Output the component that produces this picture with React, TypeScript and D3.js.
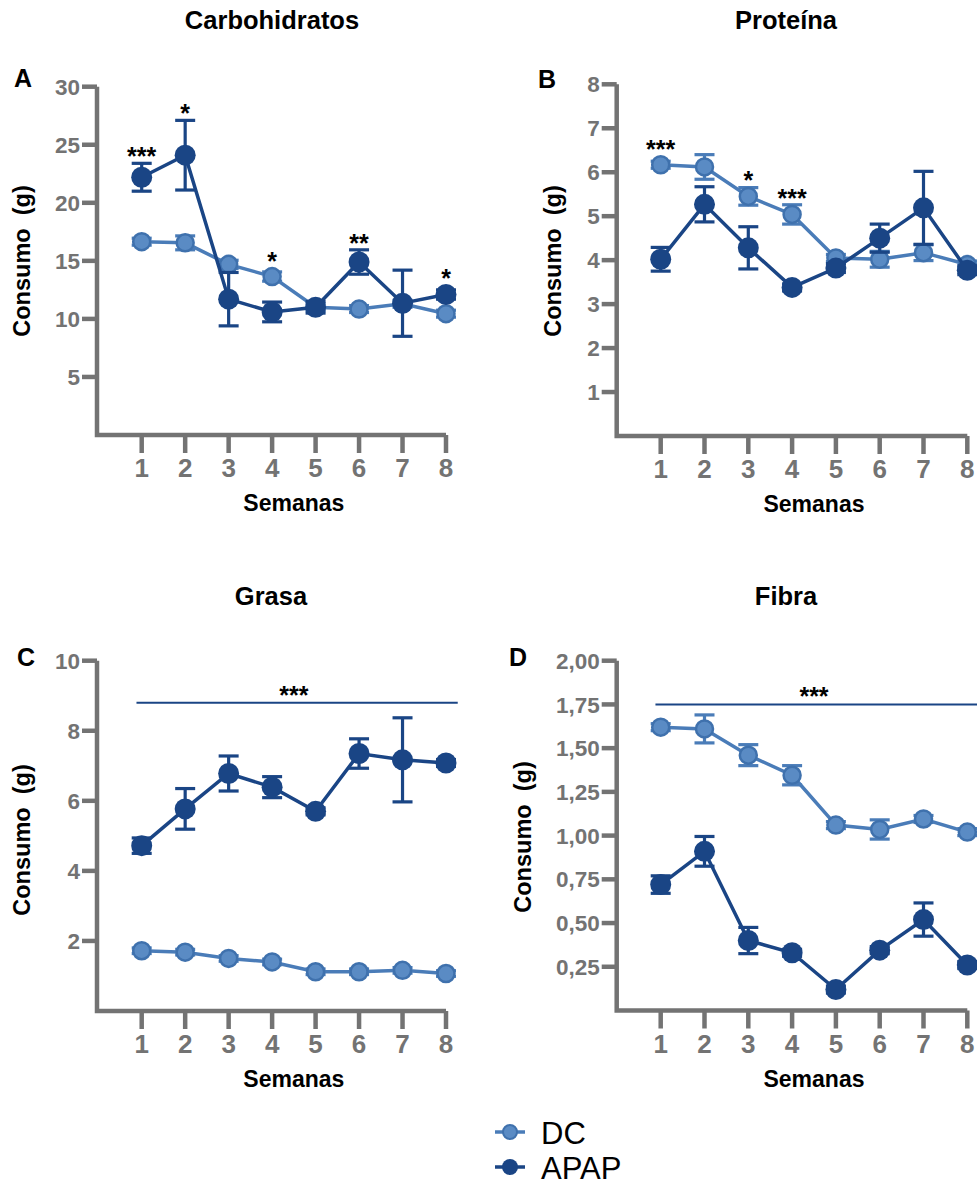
import React from "react";
import * as d3 from "d3";

// weeks on the x axis
const weeks = [1, 2, 3, 4, 5, 6, 7, 8];

// A - Carbohidratos
const carbDC = [16.65, 16.55, 14.7, 13.65, 11.0, 10.85, 11.3, 10.45];
const carbDCsem = [0.3, 0.6, 0.35, 0.4, 0.3, 0.3, 0.3, 0.3];
const carbAPAP = [22.2, 24.1, 11.7, 10.6, 11.0, 14.9, 11.35, 12.1];
const carbAPAPsem = [1.2, 3.0, 2.3, 0.85, 0.5, 1.05, 2.85, 0.4];
const carbStars = [
  { week: 1, label: "***" },
  { week: 2, label: "*" },
  { week: 4, label: "*" },
  { week: 6, label: "**" },
  { week: 8, label: "*" },
];

// B - Proteína
const protDC = [6.17, 6.12, 5.45, 5.04, 4.05, 4.02, 4.17, 3.9];
const protDCsem = [0.08, 0.28, 0.2, 0.22, 0.08, 0.18, 0.18, 0.08];
const protAPAP = [4.02, 5.27, 4.28, 3.38, 3.82, 4.5, 5.19, 3.77];
const protAPAPsem = [0.27, 0.4, 0.48, 0.08, 0.1, 0.32, 0.83, 0.1];
const protStars = [
  { week: 1, label: "***" },
  { week: 3, label: "*" },
  { week: 4, label: "***" },
];

// C - Grasa
const fatDC = [1.72, 1.68, 1.5, 1.4, 1.12, 1.12, 1.16, 1.07];
const fatDCsem = [0.08, 0.08, 0.08, 0.08, 0.08, 0.08, 0.08, 0.08];
const fatAPAP = [4.72, 5.77, 6.78, 6.39, 5.7, 7.35, 7.17, 7.08];
const fatAPAPsem = [0.22, 0.58, 0.5, 0.3, 0.1, 0.42, 1.2, 0.1];
const fatBar = { value: 8.8, label: "***" };

// D - Fibra
const fibDC = [1.62, 1.61, 1.46, 1.345, 1.06, 1.035, 1.095, 1.02];
const fibDCsem = [0.02, 0.08, 0.06, 0.055, 0.02, 0.055, 0.02, 0.02];
const fibAPAP = [0.72, 0.91, 0.4, 0.33, 0.12, 0.345, 0.52, 0.26];
const fibAPAPsem = [0.05, 0.085, 0.075, 0.02, 0.02, 0.02, 0.095, 0.02];
const fibBar = { value: 1.75, label: "***" };

const carbTicks = [5, 10, 15, 20, 25, 30];
const protTicks = [1, 2, 3, 4, 5, 6, 7, 8];
const fatTicks = [2, 4, 6, 8, 10];
const fibTicks = [0.25, 0.5, 0.75, 1, 1.25, 1.5, 1.75, 2];

const legendNames = ["DC", "APAP"];

const FONT = "'Liberation Sans', Arial, Helvetica, sans-serif";
const AXIS = "#737373";
const DARK = "#1a4585";
const LIGHT_FILL = "#5a8bc4";
const LIGHT_STROKE = "#3f71ad";
const LIGHT_LINE = "#4a7cb8";

function Series({ x, y, mean, sem, dark }) {
  const line = d3
    .line()
    .x((d, i) => x(weeks[i]))
    .y((d) => y(d));
  const color = dark ? DARK : LIGHT_LINE;
  const r = dark ? 10.5 : 8.5;
  return (
    <g>
      {mean.map((m, i) => {
        const cx = x(weeks[i]);
        const top = y(m + sem[i]);
        const bot = y(m - sem[i]);
        return (
          <g key={"e" + i} stroke={color} strokeWidth={3.2}>
            <line x1={cx} x2={cx} y1={top} y2={bot} />
            <line x1={cx - 10} x2={cx + 10} y1={top} y2={top} />
            <line x1={cx - 10} x2={cx + 10} y1={bot} y2={bot} />
          </g>
        );
      })}
      <path d={line(mean)} fill="none" stroke={color} strokeWidth={3.5} />
      {mean.map((m, i) => (
        <circle
          key={"c" + i}
          cx={x(weeks[i])}
          cy={y(m)}
          r={r}
          fill={dark ? DARK : LIGHT_FILL}
          stroke={dark ? DARK : LIGHT_STROKE}
          strokeWidth={dark ? 0 : 2.5}
        />
      ))}
    </g>
  );
}

function Panel({ cfg, dc, dcSem, apap, apapSem, stars, bar }) {
  const x = d3.scaleLinear().domain([1, 8]).range([cfg.x1, cfg.x8]);
  const y = d3.scaleLinear().domain([0, cfg.max]).range([cfg.yZero, cfg.yTop]);
  const fmt = cfg.fmt;

  // stars sit just above the highest mark at that week
  const starY = (i) => {
    const tops = [
      y(dc[i] + dcSem[i]),
      y(dc[i]) - 9,
      y(apap[i] + apapSem[i]),
      y(apap[i]) - 10,
    ];
    return d3.min(tops);
  };

  return (
    <g fontFamily={FONT}>
      <text x={cfg.titleX} y={cfg.titleY} textAnchor="middle" fontSize={25.5} fontWeight="bold">
        {cfg.title}
      </text>
      <text x={cfg.letterX} y={cfg.letterY} fontSize={25} fontWeight="bold">
        {cfg.letter}
      </text>
      <text
        transform={`translate(${cfg.ylabX},${cfg.ylabY}) rotate(-90)`}
        textAnchor="middle"
        fontSize={23.5}
        fontWeight="bold"
        style={{ whiteSpace: "pre" }}
      >
        {"Consumo  (g)"}
      </text>
      <text x={x(4.5)} y={cfg.yZero + 76} textAnchor="middle" fontSize={23} fontWeight="bold">
        Semanas
      </text>

      {/* axes */}
      <path
        d={`M${cfg.axisX},${cfg.yTop} V${cfg.yZero} H${x(8)}`}
        fill="none"
        stroke={AXIS}
        strokeWidth={4.5}
      />
      {cfg.ticks.map((t) => (
        <g key={"yt" + t}>
          <line x1={cfg.axisX - 15} x2={cfg.axisX} y1={y(t)} y2={y(t)} stroke={AXIS} strokeWidth={4.5} />
          <text
            x={cfg.axisX - 17}
            y={y(t)}
            dy="0.36em"
            textAnchor="end"
            fontSize={22.5}
            fontWeight="bold"
            fill={AXIS}
          >
            {fmt(t)}
          </text>
        </g>
      ))}
      {weeks.map((w) => (
        <g key={"xt" + w}>
          <line x1={x(w)} x2={x(w)} y1={cfg.yZero} y2={cfg.yZero + 18} stroke={AXIS} strokeWidth={4.5} />
          <text x={x(w)} y={cfg.yZero + 42} textAnchor="middle" fontSize={26} fontWeight="bold" fill={AXIS}>
            {w}
          </text>
        </g>
      ))}

      <Series x={x} y={y} mean={dc} sem={dcSem} dark={false} />
      <Series x={x} y={y} mean={apap} sem={apapSem} dark={true} />

      {stars &&
        stars.map((s) => (
          <text
            key={"s" + s.week}
            x={x(s.week)}
            y={starY(s.week - 1) + 2}
            textAnchor="middle"
            fontSize={25}
            fontWeight="bold"
          >
            {s.label}
          </text>
        ))}
      {bar && (
        <g>
          <line x1={x(0.88)} x2={x(8.27)} y1={y(bar.value)} y2={y(bar.value)} stroke={DARK} strokeWidth={2} />
          <text x={x(4.5)} y={y(bar.value) + 1} textAnchor="middle" fontSize={25} fontWeight="bold">
            {bar.label}
          </text>
        </g>
      )}
    </g>
  );
}

const intFmt = (d) => String(d);
const commaFmt = (d) => d3.format(".2f")(d).replace(".", ",");

const cfgA = {
  axisX: 97, x1: 141.7, x8: 446, yTop: 86.7, yZero: 435, max: 30, ticks: carbTicks, fmt: intFmt,
  title: "Carbohidratos", titleX: 272, titleY: 29, letter: "A", letterX: 14, letterY: 87,
  ylabX: 30, ylabY: 261,
};
const cfgB = {
  axisX: 616.7, x1: 660.7, x8: 967.3, yTop: 84.3, yZero: 436, max: 8, ticks: protTicks, fmt: intFmt,
  title: "Proteína", titleX: 786, titleY: 29, letter: "B", letterX: 538, letterY: 88,
  ylabX: 561, ylabY: 261,
};
const cfgC = {
  axisX: 97, x1: 141.7, x8: 446, yTop: 660.7, yZero: 1011, max: 10, ticks: fatTicks, fmt: intFmt,
  title: "Grasa", titleX: 271, titleY: 605, letter: "C", letterX: 17, letterY: 666,
  ylabX: 30, ylabY: 840,
};
const cfgD = {
  axisX: 616.7, x1: 660.7, x8: 967.3, yTop: 660.7, yZero: 1010.5, max: 2, ticks: fibTicks, fmt: commaFmt,
  title: "Fibra", titleX: 786, titleY: 605, letter: "D", letterX: 509, letterY: 666,
  ylabX: 531, ylabY: 837,
};

export default function App() {
  return (
    <svg
      width={977}
      height={1184}
      style={{ position: "absolute", left: 0, top: 0, background: "#fff" }}
    >
      <rect width={977} height={1184} fill="#fff" />
      <Panel cfg={cfgA} dc={carbDC} dcSem={carbDCsem} apap={carbAPAP} apapSem={carbAPAPsem} stars={carbStars} />
      <Panel cfg={cfgB} dc={protDC} dcSem={protDCsem} apap={protAPAP} apapSem={protAPAPsem} stars={protStars} />
      <Panel cfg={cfgC} dc={fatDC} dcSem={fatDCsem} apap={fatAPAP} apapSem={fatAPAPsem} bar={fatBar} />
      <Panel cfg={cfgD} dc={fibDC} dcSem={fibDCsem} apap={fibAPAP} apapSem={fibAPAPsem} bar={fibBar} />

      {/* legend */}
      {legendNames.map((name, i) => {
        const ly = 1132 + i * 35;
        const dark = i === 1;
        return (
          <g key={name} fontFamily={FONT}>
            <line x1={495} x2={525} y1={ly} y2={ly} stroke={dark ? DARK : LIGHT_LINE} strokeWidth={3.5} />
            <circle
              cx={510}
              cy={ly}
              r={dark ? 8 : 7}
              fill={dark ? DARK : LIGHT_FILL}
              stroke={dark ? DARK : LIGHT_STROKE}
              strokeWidth={dark ? 0 : 2}
            />
            <text x={541} y={ly + 11.5} fontSize={31}>
              {name}
            </text>
          </g>
        );
      })}
    </svg>
  );
}
